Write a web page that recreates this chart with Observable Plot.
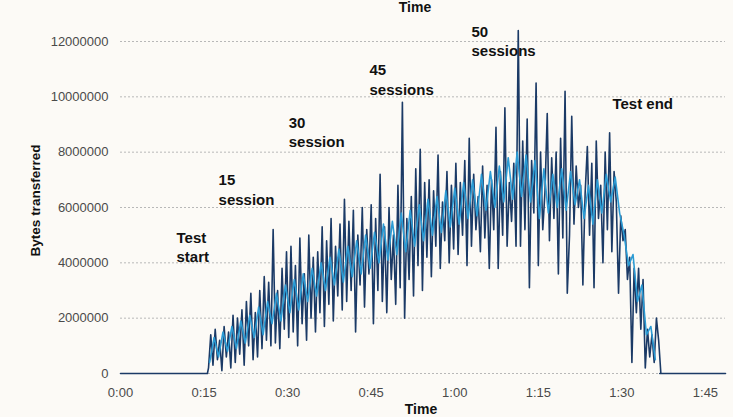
<!DOCTYPE html>
<html><head><meta charset="utf-8">
<script src="https://cdn.jsdelivr.net/npm/d3@7"></script>
<script src="https://cdn.jsdelivr.net/npm/@observablehq/plot@0.6"></script>
<style>
html,body{margin:0;padding:0;background:#fcfaf6;}
#chart svg{display:block;}
</style></head><body><div id="chart"></div>
<script>
// Time axis (minutes) and tick labels
const xTickValues = [0, 15, 30, 45, 60, 75, 90, 105];
const xTickLabels = ["0:00", "0:15", "0:30", "0:45", "1:00", "1:15", "1:30", "1:45"];
const yTickValues = [0, 2000000, 4000000, 6000000, 8000000, 10000000, 12000000];

// Idle periods (time in minutes, bytes)
const idleBefore = [[0, 0], [15.6, 0]];
const idleAfter = [[96.8, 0], [108.6, 0]];

// Peak series (dark), sampled every 0.4 min from 15.8 min, values in millions of bytes
const peakStart = 15.8, peakStep = 0.4;
const peakValues = [
  0.2, 1.4, 0.3, 1.6, 0.5, 1.2, 0.1, 1.7, 0.6, 1.5, 0.2,
  2.1, 0.4, 2.0, 0.7, 2.3, 0.3, 2.6, 1.0, 2.9, 0.5, 2.2, 0.6,
  3.0, 0.9, 3.5, 1.2, 3.3, 1.0, 5.2, 1.1, 3.0, 0.9, 3.8, 1.6, 4.4,
  1.3, 4.6, 1.5, 3.9, 1.0, 4.9, 1.8, 3.6, 1.2, 5.0, 2.0, 4.2,
  1.5, 4.4, 2.2, 5.3, 1.7, 4.8, 2.5, 5.6, 1.9, 4.6, 2.8, 5.4, 2.3, 6.3,
  2.6, 5.5, 3.0, 5.9, 1.5, 5.0, 3.2, 6.0, 2.4, 5.2, 3.6, 6.1, 1.8,
  5.6, 3.0, 7.2, 2.6, 5.3, 2.2, 6.0, 3.4, 5.0, 2.5, 6.8, 3.1,
  9.8, 2.0, 5.6, 3.4, 6.4, 2.8, 7.4, 3.9, 8.1, 3.0, 6.9,
  4.2, 7.0, 3.5, 6.6, 4.6, 7.9, 3.8, 6.2, 4.8, 7.3, 4.0, 6.8, 4.5,
  7.6, 4.3, 6.9, 5.0, 7.7, 3.9, 8.5, 4.6, 7.2, 5.2, 6.4, 4.4,
  7.5, 4.9, 6.8, 3.8, 7.0, 5.2, 8.9, 3.8, 7.3, 5.0, 9.6, 4.6, 6.9,
  5.5, 7.6, 4.6, 12.4, 4.6, 8.4, 5.2, 9.2, 3.1, 7.7, 5.8, 10.5,
  3.9, 8.0, 5.2, 6.6, 9.4, 4.8, 7.8, 5.6, 8.0, 3.6, 8.5, 4.9,
  10.2, 2.9, 5.0, 9.3, 5.4, 7.5, 6.0, 6.8, 3.2, 6.5, 8.2, 5.0, 7.6,
  3.1, 8.4, 5.6, 6.8, 4.0, 8.0, 5.2, 8.7, 4.4, 7.3, 6.2, 2.9, 5.7,
  4.8, 5.2, 3.4, 4.2, 0.4, 3.8, 2.2, 3.8, 1.6, 3.4, 0.2, 1.6, 0.6, 1.4, 0.4, 2.0, 1.2, 0.0
];

// Average series (light), sampled every 0.8 min from 16.0 min, values in millions of bytes
const avgStart = 16.0, avgStep = 0.8;
const avgValues = [
  0.4, 1.3, 0.6, 1.5, 0.8, 1.7, 0.9, 1.9, 1.1, 2.1, 1.3, 2.4, 1.4, 2.6, 1.8, 2.9, 1.9, 3.2,
  2.2, 3.4, 2.3, 3.6, 2.6, 3.8, 2.8, 4.0, 3.0, 4.2, 3.2, 4.5, 3.3, 4.6, 3.5, 4.8, 3.6, 5.0,
  3.8, 5.1, 4.0, 5.4, 4.1, 5.5, 4.3, 5.8, 4.4, 5.9, 4.6, 6.1, 4.8, 6.3, 5.0, 6.4, 5.1, 6.6,
  5.3, 6.7, 5.4, 6.9, 5.6, 7.0, 5.7, 7.2, 5.9, 7.3, 6.0, 7.5, 6.2, 7.8, 6.3, 8.0, 6.4, 7.9,
  6.2, 7.7, 5.6, 7.4, 5.8, 7.2, 6.0, 7.4, 5.9, 7.3, 6.1, 7.0, 5.6, 6.8, 5.4, 7.0, 5.8, 7.2,
  6.2, 7.1, 5.8, 5.0, 3.9, 4.3, 2.6, 3.2, 1.4, 1.7, 0.5
];

// Annotations: time (min), bytes, text
const noteTimes = [10.05, 17.6, 30.2, 44.7, 63.0, 88.3];
const noteBytes = [4600000, 6670000, 8750000, 10650000, 12040000, 9800000];
const noteTexts = ["Test\nstart", "15\nsession", "30\nsession", "45\nsessions", "50\nsessions", "Test end"];

const MB = 1e6;
const peakData = [
  ...idleBefore.map(([t, v]) => ({t, v})),
  ...peakValues.map((v, i) => ({t: peakStart + i * peakStep, v: v * MB})),
  ...idleAfter.map(([t, v]) => ({t, v}))
];
const avgData = avgValues.map((v, i) => ({t: avgStart + i * avgStep, v: v * MB}));
const notes = noteTexts.map((text, i) => ({t: noteTimes[i], v: noteBytes[i], text}));

const chart = Plot.plot({
  width: 733,
  height: 417,
  marginLeft: 120,
  marginRight: 8,
  marginTop: 41,
  marginBottom: 44,
  style: {background: "transparent", fontFamily: "'Liberation Sans', Arial, sans-serif", fontSize: "13px", color: "#4a4a4a"},
  x: {domain: [0, 108.6], label: null},
  y: {domain: [0, 12000000], label: null},
  marks: [
    Plot.gridY(yTickValues, {stroke: "#b8b8b8", strokeOpacity: 1, strokeDasharray: "2,2", strokeWidth: 1}),
    Plot.axisX({ticks: xTickValues, tickFormat: d => xTickLabels[xTickValues.indexOf(d)], tickSize: 0, tickPadding: 14, label: null}),
    Plot.axisY({ticks: yTickValues, tickFormat: d => String(d), tickSize: 0, tickPadding: 12, label: null}),
    Plot.line(peakData, {x: "t", y: "v", stroke: "#1b3a66", strokeWidth: 1.6, curve: "linear"}),
    Plot.line(avgData, {x: "t", y: "v", stroke: "#2b9bd4", strokeWidth: 1.6, curve: "linear"}),
    Plot.text(notes, {x: "t", y: "v", text: "text", textAnchor: "start", lineAnchor: "middle", lineHeight: 1.3,
      fontFamily: "'Liberation Sans', Arial, sans-serif", fontWeight: "bold", fontSize: 15, fill: "#111"}),
    Plot.text(["Time"], {frameAnchor: "bottom", dy: 36, dx: -2, lineAnchor: "middle", textAnchor: "middle",
      fontFamily: "'Liberation Sans', Arial, sans-serif", fontWeight: "bold", fontSize: 14, fill: "#111"}),
    Plot.text(["Time"], {frameAnchor: "top", dy: -34, dx: -8, lineAnchor: "middle", textAnchor: "middle",
      fontFamily: "'Liberation Sans', Arial, sans-serif", fontWeight: "bold", fontSize: 14, fill: "#111"}),
    Plot.text(["Bytes transferred"], {frameAnchor: "left", dx: -85, dy: -7, rotate: -90, textAnchor: "middle", lineAnchor: "middle",
      fontFamily: "'Liberation Sans', Arial, sans-serif", fontWeight: "bold", fontSize: 13.5, fill: "#111"})
  ]
});
document.getElementById("chart").appendChild(chart);
</script>
</body></html>
